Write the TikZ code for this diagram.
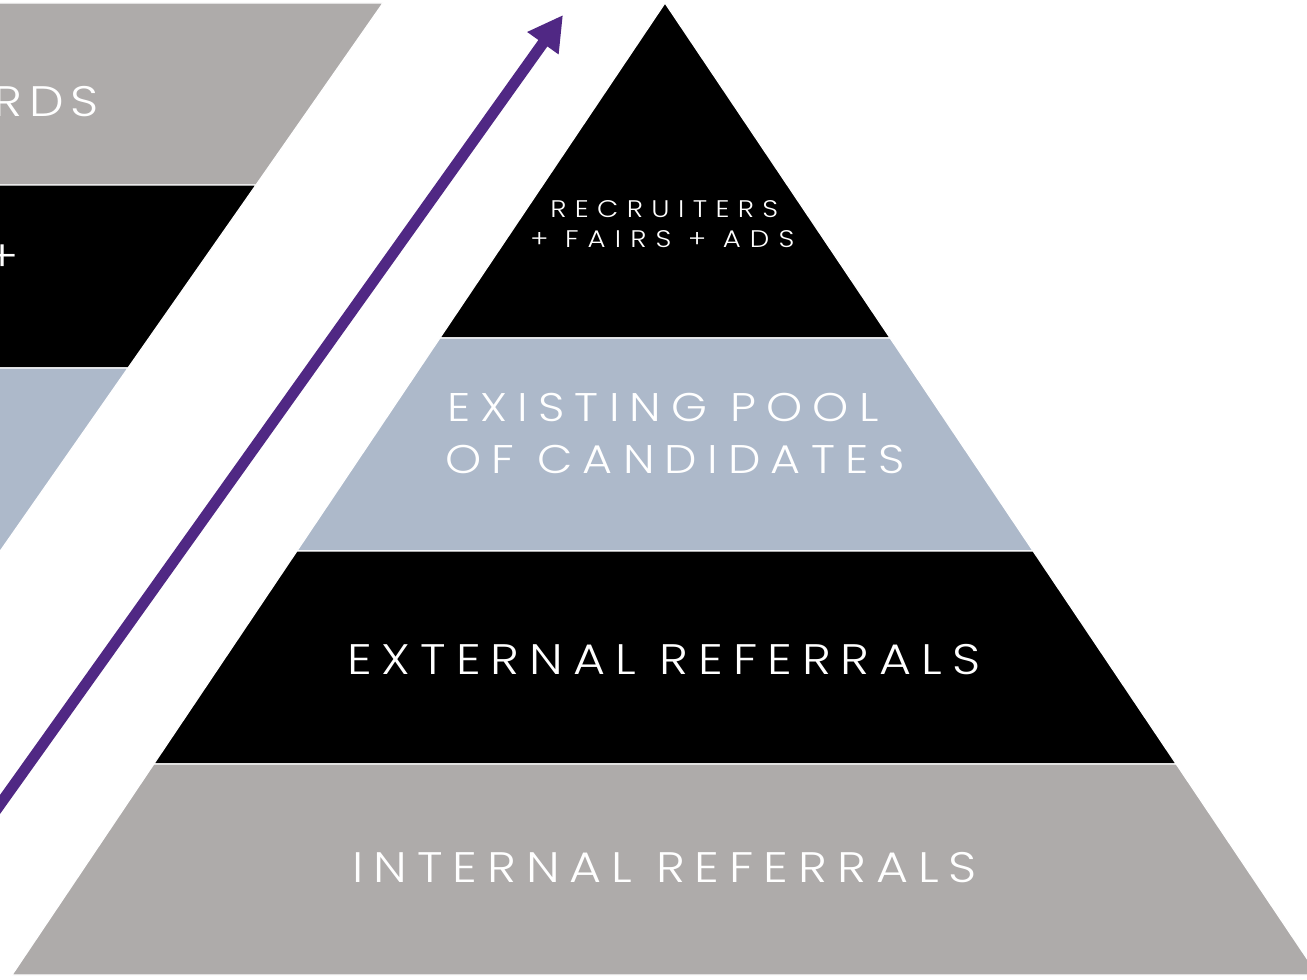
\documentclass[tikz,border=0pt]{standalone}
\usepackage{fontspec}
\usetikzlibrary{arrows.meta}
\IfFontExistsTF{Poppins Light}
  {\newfontfamily\lblfont[FakeStretch=1.15]{Poppins Light}}
  {\newfontfamily\lblfont[FakeStretch=1.15]{Poppins}}
\newcommand\lsp[1]{\addfontfeature{LetterSpace=#1}}
\definecolor{pgray}{HTML}{AEABAA}
\definecolor{pblue}{HTML}{ADB9CA}
\definecolor{ppurple}{HTML}{502884}
\begin{document}
\begin{tikzpicture}[x=0.75pt,y=-0.75pt,
  layer/.style={draw=white,line width=0.9pt,line join=miter},
  lbl/.style={text=white,inner sep=0pt,anchor=base west},
  bigtxt/.style={lbl,font=\lblfont\fontsize{32}{36}\selectfont\lsp{23.5}},
  midtxt/.style={lbl,font=\lblfont\fontsize{30}{34}\selectfont\lsp{25.5}},
  smalltxt/.style={lbl,font=\lblfont\fontsize{18}{20}\selectfont\lsp{35}},
  arrowline/.style={draw=ppurple,line width=8.3pt,-{Triangle[length=26pt,width=27pt]}}]
\useasboundingbox (0,0) rectangle (1307,980);
\clip (0,0) rectangle (1307,980);
% left partial pyramid
\path[layer,fill=pgray] (-20,3) -- (383,3) -- (256,185) -- (-20,185) -- cycle;
\path[layer,fill=black] (-20,185) -- (256,185) -- (128,368) -- (-20,368) -- cycle;
\path[layer,fill=pblue] (-20,368) -- (128,368) -- (-20,580) -- cycle;
\node[lbl,font=\lblfont\fontsize{32}{36}\selectfont\lsp{16},anchor=base east] (boards) at (99,117) {RDS};
\node[lbl,font=\lblfont\fontsize{32}{36}\selectfont,anchor=base] (plus) at (3,272) {+};
% main pyramid
\path[layer,fill=black] (665,3) -- (890.1,338) -- (439.9,338) -- cycle;
\path[layer,fill=pblue] (439.9,338) -- (890.1,338) -- (1033.1,551) -- (296.9,551) -- cycle;
\path[layer,fill=black] (296.9,551) -- (1033.1,551) -- (1176.2,764) -- (153.8,764) -- cycle;
\path[layer,fill=pgray] (153.8,764) -- (1176.2,764) -- (1318,975) -- (12,975) -- cycle;
% labels
\node[smalltxt] (rec) at (550,218) {RECRUITERS};
\node[smalltxt] (fairs) at (530,248) {\lsp{38}+ FAIRS + ADS};
\node[midtxt] (exist) at (447,422) {EXISTING POOL};
\node[midtxt] (cand) at (445,474) {OF CANDIDATES};
\node[bigtxt] (ext) at (347,674) {EXTERNAL REFERRALS};
\node[bigtxt] (int) at (352,882) {INTERNAL REFERRALS};
% arrow
\coordinate (arrowstart) at (-10,818.5);
\coordinate (arrowtip) at (563,15);
\draw[arrowline] (arrowstart) -- (arrowtip);
\end{tikzpicture}
\end{document}
